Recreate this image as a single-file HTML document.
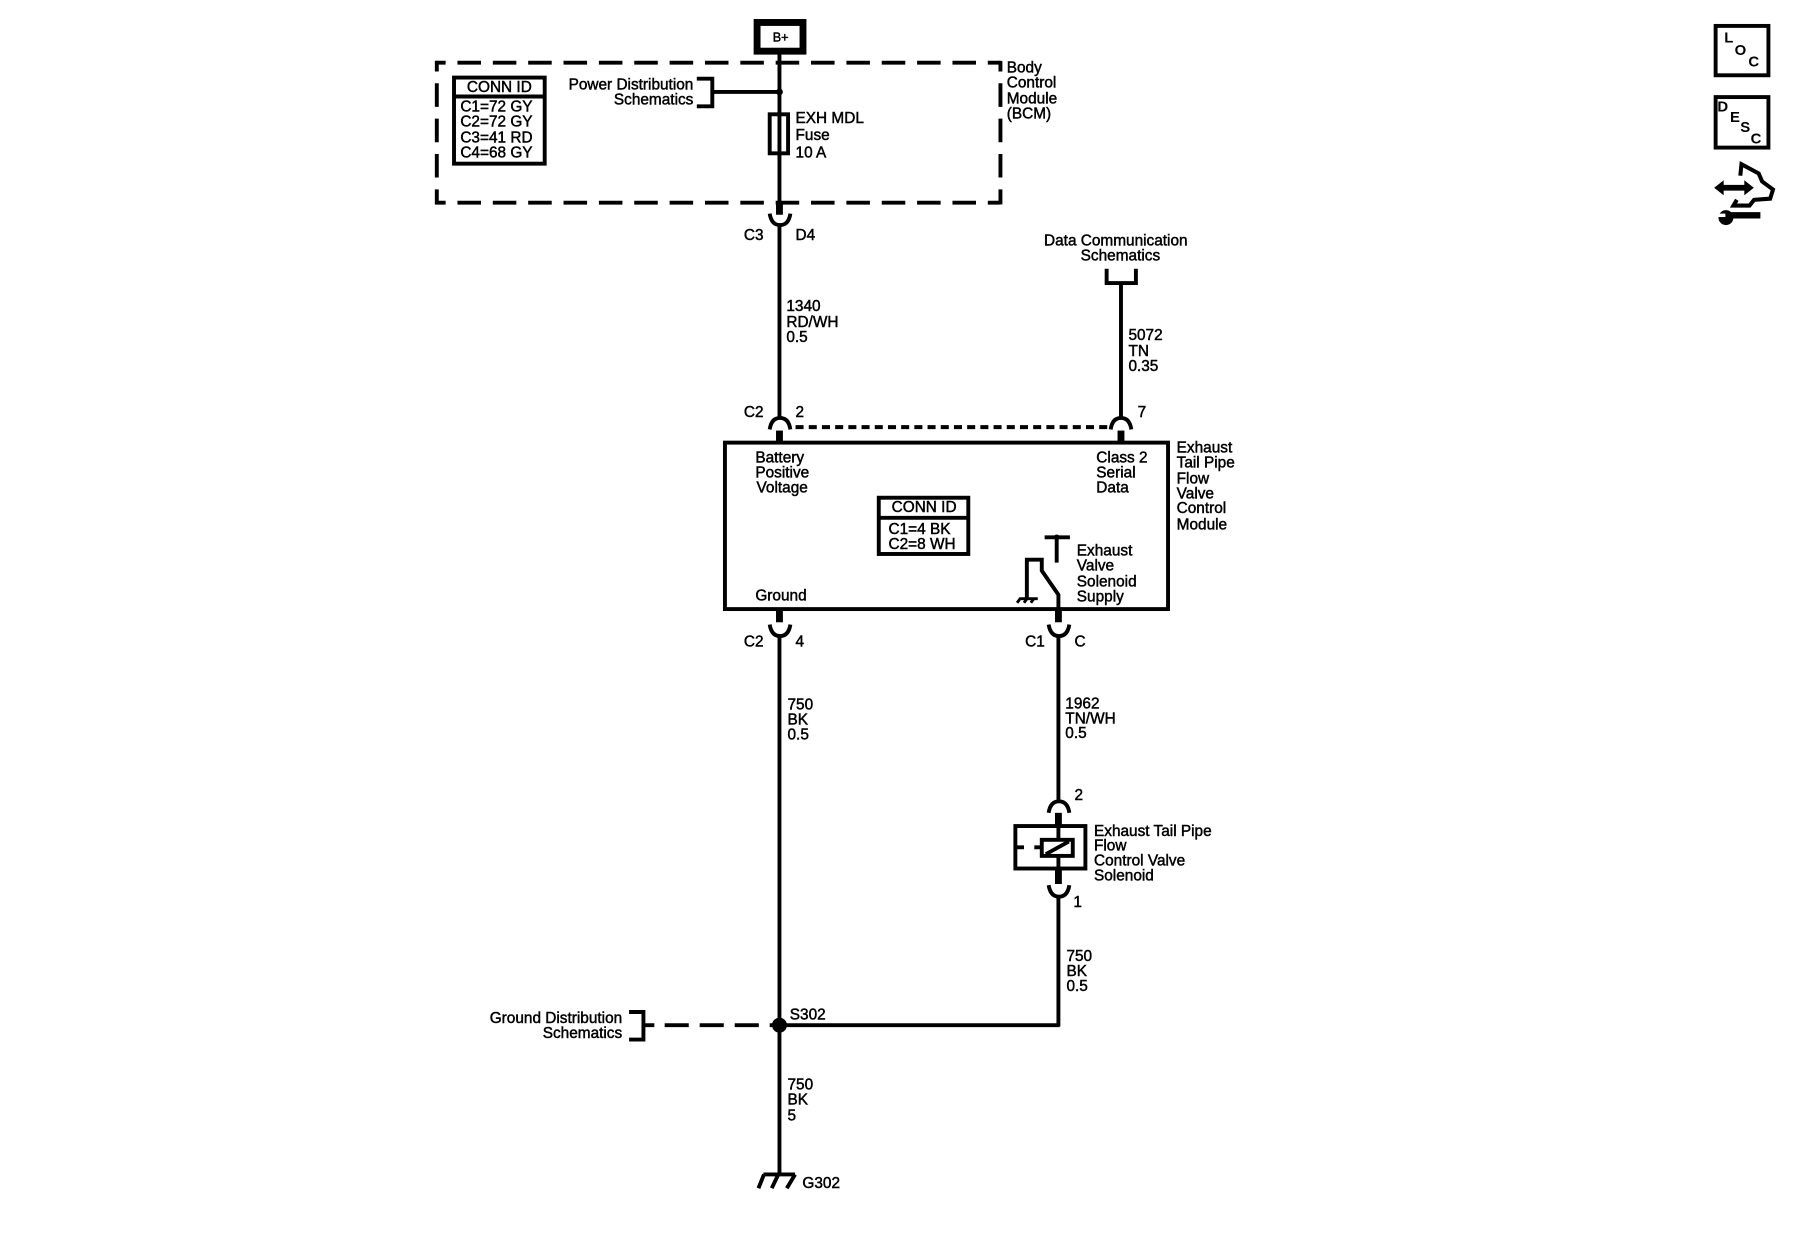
<!DOCTYPE html>
<html><head><meta charset="utf-8"><style>
html,body{margin:0;padding:0;background:#fff;width:1800px;height:1248px;overflow:hidden}
svg{display:block}
text{font-family:"Liberation Sans",sans-serif;font-size:13.4px;fill:#000;stroke:#000;stroke-width:.4}
.e{text-anchor:end}.m{text-anchor:middle}
.i{font-size:13px;font-weight:bold;stroke-width:0}
</style></head><body>
<svg width="1800" height="1248" viewBox="0 0 1568 1087" xmlns="http://www.w3.org/2000/svg">
<g fill="none" stroke="#000" stroke-width="3.4">
<!-- B+ -->
<rect x="659.5" y="19.5" width="40" height="25" stroke-width="6"/>
<text x="680" y="36" class="m" style="font-size:11px">B+</text>
<!-- BCM dashed -->
<g stroke-dasharray="20.5 10.3" stroke-dashoffset="11.3">
<path d="M379 54.500H871.500"/>
<path d="M379 176.500H871.500"/>
<path d="M380.500 53V178"/>
<path d="M871.500 53V178"/>
</g>
<line x1="679" y1="47" x2="679" y2="176"/>
<rect x="395.5" y="67.5" width="79" height="75"/>
<line x1="396" y1="84" x2="474" y2="84"/>
<path d="M607 68.5H620.5V92.5H607M620 80H679"/>
<circle cx="679" cy="80" r="3" fill="#000" stroke="none"/>
<rect x="670.5" y="99.5" width="16" height="34" fill="#fff"/>
<line x1="679" y1="99" x2="679" y2="134"/>
<text x="877" y="63">Body</text><text x="877" y="76">Control</text><text x="877" y="90">Module</text><text x="877" y="103">(BCM)</text>
<text x="435" y="80" class="m">CONN ID</text>
<text x="401" y="97">C1=72 GY</text><text x="401" y="110">C2=72 GY</text><text x="401" y="124">C3=41 RD</text><text x="401" y="137">C4=68 GY</text>
<text x="604" y="78" class="e">Power Distribution</text><text x="604" y="91" class="e">Schematics</text>
<text x="693" y="107">EXH MDL</text><text x="693" y="122">Fuse</text><text x="693" y="137">10 A</text>
<!-- C3 connector -->
<line x1="679" y1="176" x2="679" y2="187" stroke-width="6"/>
<path d="M670.5 186Q672 196 679.5 196Q687 196 688.5 186"/>
<line x1="679" y1="196" x2="679" y2="364"/>
<text x="648" y="209">C3</text><text x="693" y="209">D4</text>
<text x="685" y="271">1340</text><text x="685" y="285">RD/WH</text><text x="685" y="298">0.5</text>
<!-- Data comm -->
<text x="972" y="214" class="m">Data Communication</text><text x="976" y="227" class="m">Schematics</text>
<path d="M964 234V246.5H989.5V234M976.5 246V364"/>
<text x="983" y="296">5072</text><text x="983" y="310">TN</text><text x="983" y="323">0.35</text>
<text x="648" y="363">C2</text><text x="693" y="363">2</text><text x="991" y="363">7</text>
<path d="M670.5 374Q672 364 679.5 364Q687 364 688.5 374"/>
<path d="M967.5 374Q969 364 976.5 364Q984 364 985.5 374"/>
<line x1="679" y1="375" x2="679" y2="385" stroke-width="6"/>
<line x1="976.5" y1="375" x2="976.5" y2="385" stroke-width="6"/>
<line x1="693" y1="372" x2="967" y2="372" stroke-dasharray="7 4.5"/>
<!-- Module -->
<rect x="631.5" y="385.5" width="386" height="145"/>
<text x="658" y="403">Battery</text><text x="658" y="416">Positive</text><text x="659" y="429">Voltage</text>
<text x="955" y="403">Class 2</text><text x="955" y="416">Serial</text><text x="955" y="429">Data</text>
<text x="1025" y="394">Exhaust</text><text x="1025" y="407">Tail Pipe</text><text x="1025" y="421">Flow</text><text x="1025" y="434">Valve</text><text x="1025" y="447">Control</text><text x="1025" y="461">Module</text>
<rect x="765.5" y="433.5" width="78" height="49"/>
<line x1="766" y1="451" x2="843" y2="451"/>
<text x="805" y="446" class="m">CONN ID</text>
<text x="774" y="465">C1=4 BK</text><text x="774" y="478">C2=8 WH</text>
<path d="M910 468H932M920.5 468V490"/>
<circle cx="920.5" cy="468" r="2.500" fill="#000" stroke="none"/>
<path d="M922 531V518L907.5 497V487.5H894.5V521"/>
<path d="M888 521.5H904" stroke-width="2.500"/>
<path d="M886 525L889 521M892 525L895 521M898 525L901 521" stroke-width="2.500"/>
<text x="938" y="484">Exhaust</text><text x="938" y="497">Valve</text><text x="938" y="511">Solenoid</text><text x="938" y="524">Supply</text>
<text x="658" y="523">Ground</text>
<!-- lower connectors -->
<line x1="679" y1="531" x2="679" y2="542" stroke-width="6"/>
<line x1="922" y1="531" x2="922" y2="542" stroke-width="6"/>
<path d="M670.5 544Q672 554 679.500 554Q687 554 688.500 544"/>
<path d="M913.500 544Q915 554 922.500 554Q930 554 931.500 544"/>
<line x1="679" y1="554" x2="679" y2="1023"/>
<line x1="922" y1="554" x2="922" y2="698"/>
<text x="648" y="563">C2</text><text x="693" y="563">4</text><text x="893" y="563">C1</text><text x="936" y="563">C</text>
<text x="686" y="618">750</text><text x="686" y="631">BK</text><text x="686" y="644">0.5</text>
<text x="928" y="617">1962</text><text x="928" y="630">TN/WH</text><text x="928" y="643">0.5</text>
<!-- solenoid -->
<text x="936" y="697">2</text>
<path d="M913.500 708Q915 698 922.500 698Q930 698 931.500 708"/>
<line x1="922" y1="708" x2="922" y2="719" stroke-width="6"/>
<rect x="884.500" y="719.500" width="61" height="37"/>
<line x1="922" y1="720" x2="922" y2="757"/>
<rect x="907.500" y="731.500" width="27" height="14" fill="#fff"/>
<path d="M911 744L931 733"/>
<path d="M885 738H892M901 738H907"/>
<line x1="922" y1="757" x2="922" y2="770" stroke-width="6"/>
<path d="M913.500 771Q915 781 922.500 781Q930 781 931.500 771"/>
<line x1="922" y1="781" x2="922" y2="894"/>
<text x="953" y="728">Exhaust Tail Pipe</text><text x="953" y="741">Flow</text><text x="953" y="754">Control Valve</text><text x="953" y="767">Solenoid</text>
<text x="935" y="790">1</text>
<text x="929" y="837">750</text><text x="929" y="850">BK</text><text x="929" y="863">0.5</text>
<!-- splice -->
<line x1="679" y1="893" x2="923" y2="893"/>
<circle cx="679" cy="893" r="6.500" fill="#000" stroke="none"/>
<text x="688" y="888">S302</text>
<text x="542" y="891" class="e">Ground Distribution</text><text x="542" y="904" class="e">Schematics</text>
<path d="M548 881.500H560.500V905.500H548M560 893H570"/>
<line x1="579" y1="893" x2="674" y2="893" stroke-dasharray="21 9.500"/>
<text x="686" y="949">750</text><text x="686" y="962">BK</text><text x="686" y="976">5</text>
<!-- ground -->
<path d="M665 1023H692.600M665.500 1023L660.700 1035M678 1023L672.300 1035M692.600 1023L685.400 1035"/>
<text x="699" y="1035">G302</text>
<!-- icons -->
<rect x="1494.500" y="22.500" width="46" height="43"/>
<rect x="1494.500" y="84.500" width="46" height="44"/>
<text x="1502" y="37" class="i">L</text><text x="1511" y="48" class="i">O</text><text x="1523" y="58" class="i">C</text>
<text x="1496" y="97" class="i">D</text><text x="1507" y="106" class="i">E</text><text x="1516" y="115" class="i">S</text><text x="1525" y="125" class="i">C</text>
<path d="M1516 153L1517 143L1532 151L1535 158L1544.500 165L1542 173L1528 174L1524 179L1510 179L1513 174" stroke-width="3.500"/>
<path d="M1500 163.500H1522" stroke-width="5"/>
<path d="M1494 163.500L1501 158V169ZM1527 163.500L1520 158V169Z" fill="#000" stroke-width="1"/>
<path d="M1505 187.500H1533.500" stroke-width="5.500"/>
<circle cx="1503.500" cy="189.500" r="6.500" fill="#000" stroke="none"/>
<rect x="1496" y="186" width="7" height="3" fill="#fff" stroke="none"/>
</g>
</svg>
</body></html>
